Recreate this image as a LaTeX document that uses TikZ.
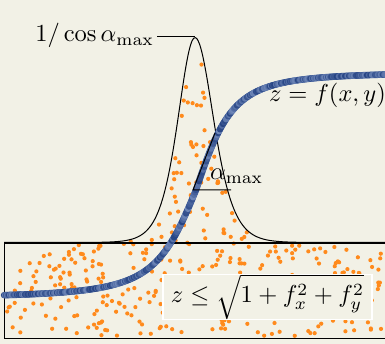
\documentclass[tikz,border=0pt]{standalone}
\usepackage{graphicx}
\definecolor{bg}{RGB}{242,241,230}
\definecolor{dotor}{RGB}{255,138,28}
\definecolor{bluedark}{RGB}{36,66,130}
\definecolor{bluelight}{RGB}{112,136,185}
\definecolor{bluemid}{RGB}{60,92,156}
\newcommand\sctxt[1]{\scalebox{2.45}{#1}}
\tikzset{
  txt/.style={inner sep=0pt},
  thinline/.style={line width=1pt, black},
}
\begin{document}
\begin{tikzpicture}[x=1pt,y=-1pt,
  declare function={
    gpk(\x)=242.5-205*(1/cosh(min(abs(\x-195)/(\x<195?23:25),6)))^2;
    bl(\x)=190-(\x<196?108:118)*((\x-196)/(\x<196?45:40))/sqrt(1+((\x-196)/(\x<196?45:40))^2);
  }]
\useasboundingbox (0,0) rectangle (385,344);
\fill[bg] (0,0) rectangle (385,344);
\begin{scope}
\clip (0,0) rectangle (385,344);
% orange dots (rejection sampling under the peak curve)
\pgfmathsetseed{4711}
\foreach \i in {1,...,950}{
  \pgfmathsetmacro\px{6+378*rnd}
  \pgfmathsetmacro\py{39+297*rnd}
  \pgfmathsetmacro\gy{gpk(\px)+1.5}
  \ifdim\py pt>\gy pt
    \fill[dotor] (\px,\py) circle[radius=2.1pt];
  \fi
}
% box
\draw[line width=1.2pt] (4.5,243) rectangle (390,338.5);
% peak curve
\draw[thinline] plot[domain=4:386, samples=300, smooth] (\x,{gpk(\x)});
% blue curve
\draw[line width=6.5pt, bluemid] plot[domain=4:386, samples=200, smooth] (\x,{bl(\x)});
\pgfmathsetseed{99}
\foreach \i in {4,5,...,386}{
  \pgfmathsetmacro\t{100*rnd}
  \fill[bluedark!\t!bluelight] (\i,{bl(\i)}) circle[radius=3.2pt];
}
\end{scope}
% angle indicator
\coordinate (tA) at (193,190);
\coordinate (tB) at (215,133);
\coordinate (tC) at (231,190);
\draw[thinline] (tB) -- (tA) -- (tC);
% label line to peak top
\coordinate (pk) at (195,37);
\coordinate (lk) at (157,37);
\draw[thinline] (lk) -- (pk);
% labels
\node[txt, anchor=base east] (lcos) at (154,42) {\sctxt{$1/\cos\alpha_{\max}$}};
\node[txt, anchor=base west] (lf) at (269,102) {\sctxt{$z=f(x,y)$}};
\node[txt, anchor=base west] (lam) at (210,180) {\sctxt{$\alpha_{\max}$}};
\node[txt, draw=white, line width=1.5pt, fill=bg, minimum width=209, minimum height=44] (lz) at (267.5,297) {\sctxt{$z\le\sqrt{1+f_x^2+f_y^2}$}};
\end{tikzpicture}
\end{document}
